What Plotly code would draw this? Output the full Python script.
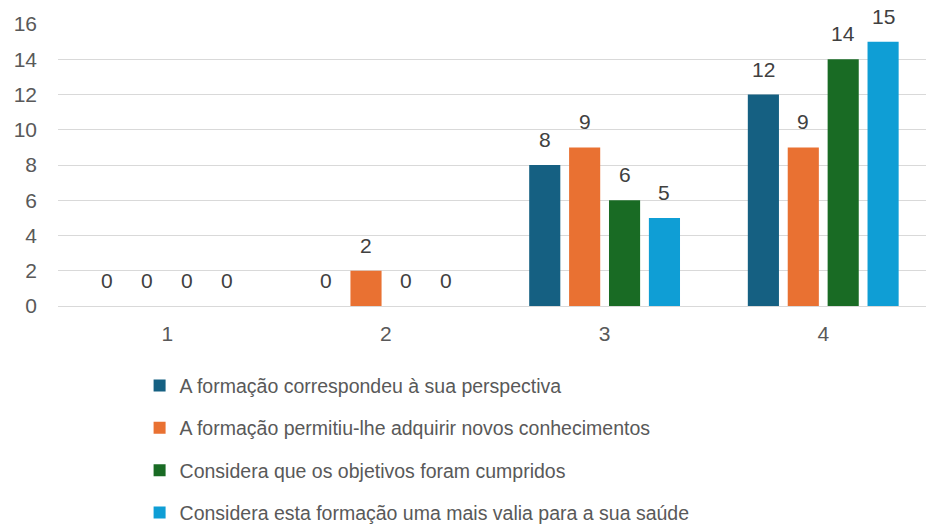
import plotly.graph_objects as go

categories = ["1", "2", "3", "4"]
series_names = [
    "A formação correspondeu à sua perspectiva",
    "A formação permitiu-lhe adquirir novos conhecimentos",
    "Considera que os objetivos foram cumpridos",
    "Considera esta formação uma mais valia para a sua saúde",
]
s1 = [0, 0, 8, 12]
s2 = [0, 2, 9, 9]
s3 = [0, 0, 6, 14]
s4 = [0, 0, 5, 15]
series_values = [s1, s2, s3, s4]
colors = ["#156082", "#E97132", "#196B24", "#0F9ED5"]
y_ticks = [0, 2, 4, 6, 8, 10, 12, 14, 16]

FONT = "Liberation Sans, Arial, sans-serif"
FS = 21
LFS = 19.5
bargap = 0.27
bargroupgap = 0.22

fig = go.Figure()
for i, (name, vals, col) in enumerate(zip(series_names, series_values, colors)):
    fig.add_trace(go.Bar(
        x=categories, y=vals, name=name, marker_color=col,
        marker_line_width=0, legendgroup=f"g{i}",
    ))

# data labels above bars, aligned to the grouped bar slots
n = len(series_values)
slot = (1 - bargap) / n
for j, vals in enumerate(series_values):
    for i, v in enumerate(vals):
        fig.add_annotation(
            x=i + (j - (n - 1) / 2) * slot, y=v, xref="x", yref="y",
            text=str(v), showarrow=False, yanchor="bottom", yshift=12,
            font=dict(family=FONT, size=FS, color="#404040"),
        )

fig.update_layout(
    width=926, height=529,
    margin=dict(l=58, r=0, t=24, b=223, autoexpand=False),
    paper_bgcolor="white", plot_bgcolor="white",
    barmode="group", bargap=bargap, bargroupgap=bargroupgap,
    font=dict(family=FONT, size=LFS, color="#595959"),
    showlegend=True,
    legend=dict(
        orientation="v", x=0.094, xanchor="left", y=-0.214, yanchor="top",
        font=dict(family=FONT, size=LFS, color="#595959"),
        traceorder="grouped", tracegroupgap=14, itemwidth=30,
        bgcolor="rgba(0,0,0,0)",
    ),
)
fig.update_xaxes(
    type="category", range=[-0.5, 3.47], showgrid=False, showline=False,
    ticks="", ticklabelstandoff=13, tickfont=dict(size=FS, color="#595959"),
)
fig.update_yaxes(
    range=[0, 16], tickvals=y_ticks, showgrid=True, gridcolor="#D9D9D9",
    gridwidth=1, zeroline=True, zerolinecolor="#D9D9D9", zerolinewidth=1,
    showline=False, ticks="", ticklabelstandoff=20,
    tickfont=dict(size=FS, color="#595959"),
)

fig.write_html(
    "out.html",
    config={"displayModeBar": False},
    post_script="document.body.style.margin='0';document.body.style.overflow='hidden';",
)
